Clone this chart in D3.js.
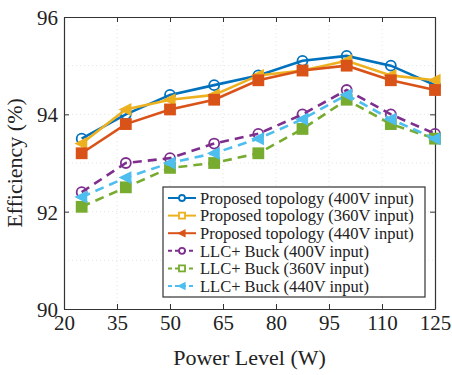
<!DOCTYPE html>
<html>
<head>
<meta charset="utf-8">
<script src="https://cdn.jsdelivr.net/npm/d3@7"></script>
<style>
  body { margin: 0; background: #fff; }
  text { font-family: "Liberation Serif", "DejaVu Serif", serif; }
</style>
</head>
<body>
<svg id="chart" width="452" height="375"></svg>
<script>
// data
const power = [25, 37.5, 50, 62.5, 75, 87.5, 100, 112.5, 125];
const prop400 = [93.5, 94.0, 94.4, 94.6, 94.8, 95.1, 95.2, 95.0, 94.6];
const prop360 = [93.4, 94.1, 94.3, 94.4, 94.8, 94.9, 95.1, 94.8, 94.7];
const prop440 = [93.2, 93.8, 94.1, 94.3, 94.7, 94.9, 95.0, 94.7, 94.5];
const llc400 = [92.4, 93.0, 93.1, 93.4, 93.6, 94.0, 94.5, 94.0, 93.6];
const llc360 = [92.1, 92.5, 92.9, 93.0, 93.2, 93.7, 94.3, 93.8, 93.5];
const llc440 = [92.3, 92.7, 93.0, 93.2, 93.5, 93.9, 94.4, 93.9, 93.5];
const xTicks = [20, 35, 50, 65, 80, 95, 110, 125];
const yTicks = [90, 92, 94, 96];

const series = [
  { name: "Proposed topology (400V input)", values: prop400, color: "#0072BD", dash: null, marker: "circle", legendMarker: "circle" },
  { name: "Proposed topology (360V input)", values: prop360, color: "#EDB120", dash: null, marker: "triangle", legendMarker: "square" },
  { name: "Proposed topology (440V input)", values: prop440, color: "#D95319", dash: null, marker: "square", legendMarker: "triangle" },
  { name: "LLC+ Buck (400V input)", values: llc400, color: "#7E2F8E", dash: "9,6", marker: "circle", legendMarker: "circle" },
  { name: "LLC+ Buck (360V input)", values: llc360, color: "#77AC30", dash: "9,6", marker: "square", legendMarker: "square" },
  { name: "LLC+ Buck (440V input)", values: llc440, color: "#4DBEEE", dash: "9,6", marker: "triangle", legendMarker: "triangle" }
];

const margin = { top: 17, right: 17, bottom: 66, left: 64 };
const W = 452, H = 375;
const width = W - margin.left - margin.right;
const height = H - margin.top - margin.bottom;

const svg = d3.select("#chart");
const g = svg.append("g").attr("transform", `translate(${margin.left},${margin.top})`);

const x = d3.scaleLinear().domain([20, 125]).range([0, width]);
const y = d3.scaleLinear().domain([90, 96]).range([height, 0]);

// faint grid
g.append("g").selectAll("line.gx").data(xTicks.slice(1, -1)).enter().append("line")
  .attr("x1", d => x(d)).attr("x2", d => x(d)).attr("y1", 0).attr("y2", height)
  .attr("stroke", "#e4e4e4").attr("stroke-dasharray", "1,3");
g.append("g").selectAll("line.gy").data([91, 92, 93, 94, 95]).enter().append("line")
  .attr("x1", 0).attr("x2", width).attr("y1", d => y(d)).attr("y2", d => y(d))
  .attr("stroke", "#e4e4e4").attr("stroke-dasharray", "1,3");

// axes
const xAxis = g.append("g").attr("transform", `translate(0,${height})`)
  .call(d3.axisBottom(x).tickValues(xTicks).tickSizeInner(-5).tickSizeOuter(0).tickPadding(8));
const xTop = g.append("g").call(d3.axisTop(x).tickValues(xTicks).tickSizeInner(-5).tickSizeOuter(0).tickFormat(""));
const yAxis = g.append("g")
  .call(d3.axisLeft(y).tickValues(yTicks).tickFormat(d3.format("d")).tickSizeInner(-5).tickSizeOuter(0).tickPadding(6));
const yRight = g.append("g").attr("transform", `translate(${width},0)`)
  .call(d3.axisRight(y).tickValues(yTicks).tickSizeInner(-5).tickSizeOuter(0).tickFormat(""));

[xAxis, xTop, yAxis, yRight].forEach(a => {
  a.select(".domain").attr("stroke", "#333").attr("stroke-width", 1.2);
  a.selectAll(".tick line").attr("stroke", "#333");
  a.selectAll("text").attr("fill", "#222").style("font-size", "21px")
    .style("font-family", "'Liberation Serif', serif");
});
xAxis.selectAll("text").attr("dy", "0.6em");
yAxis.selectAll("text").attr("dy", "0.35em");

// axis labels
svg.append("text").attr("x", margin.left + width / 2).attr("y", 365)
  .attr("text-anchor", "middle").style("font-size", "22px").attr("fill", "#222")
  .text("Power Level (W)");
svg.append("text").attr("transform", `translate(22,${margin.top + height / 2}) rotate(-90)`)
  .attr("text-anchor", "middle").style("font-size", "22px").attr("fill", "#222")
  .text("Efficiency (%)");

function drawMarker(sel, type, cx, cy, r, color, fill) {
  if (type === "circle") {
    sel.append("circle").attr("cx", cx).attr("cy", cy).attr("r", r)
      .attr("fill", fill).attr("stroke", color).attr("stroke-width", 1.8);
  } else if (type === "square") {
    sel.append("rect").attr("x", cx - r).attr("y", cy - r).attr("width", 2 * r).attr("height", 2 * r)
      .attr("fill", fill).attr("stroke", color).attr("stroke-width", 1.8);
  } else {
    sel.append("path")
      .attr("d", `M${cx - r * 1.2},${cy} L${cx + r},${cy - r * 1.1} L${cx + r},${cy + r * 1.1} Z`)
      .attr("fill", color).attr("stroke", color).attr("stroke-width", 1.2);
  }
}

const line = d3.line().x(d => x(d[0])).y(d => y(d[1]));

series.forEach(s => {
  const pts = power.map((p, i) => [p, s.values[i]]);
  g.append("path").datum(pts).attr("d", line)
    .attr("fill", "none").attr("stroke", s.color).attr("stroke-width", 2.6)
    .attr("stroke-dasharray", s.dash);
  const mg = g.append("g");
  pts.forEach(p => {
    drawMarker(mg, s.marker, x(p[0]), y(p[1]), 5, s.color, s.marker === "square" ? s.color : "none");
  });
});

// legend
const lg = svg.append("g").attr("transform", "translate(163,187)");
lg.append("rect").attr("width", 262).attr("height", 110)
  .attr("fill", "#fff").attr("stroke", "#333").attr("stroke-width", 1.2);
series.forEach((s, i) => {
  const yy = 11 + i * 17.6;
  const row = lg.append("g");
  row.append("line").attr("x1", 5).attr("x2", 33).attr("y1", yy).attr("y2", yy)
    .attr("stroke", s.color).attr("stroke-width", 2).attr("stroke-dasharray", s.dash ? "4,3" : null);
  drawMarker(row, s.legendMarker, 19, yy, 3, s.color, "#fff");
  row.append("text").attr("x", 37).attr("y", yy).attr("dy", "0.35em")
    .style("font-size", "16.5px").attr("fill", "#222").text(s.name);
});
</script>
</body>
</html>
